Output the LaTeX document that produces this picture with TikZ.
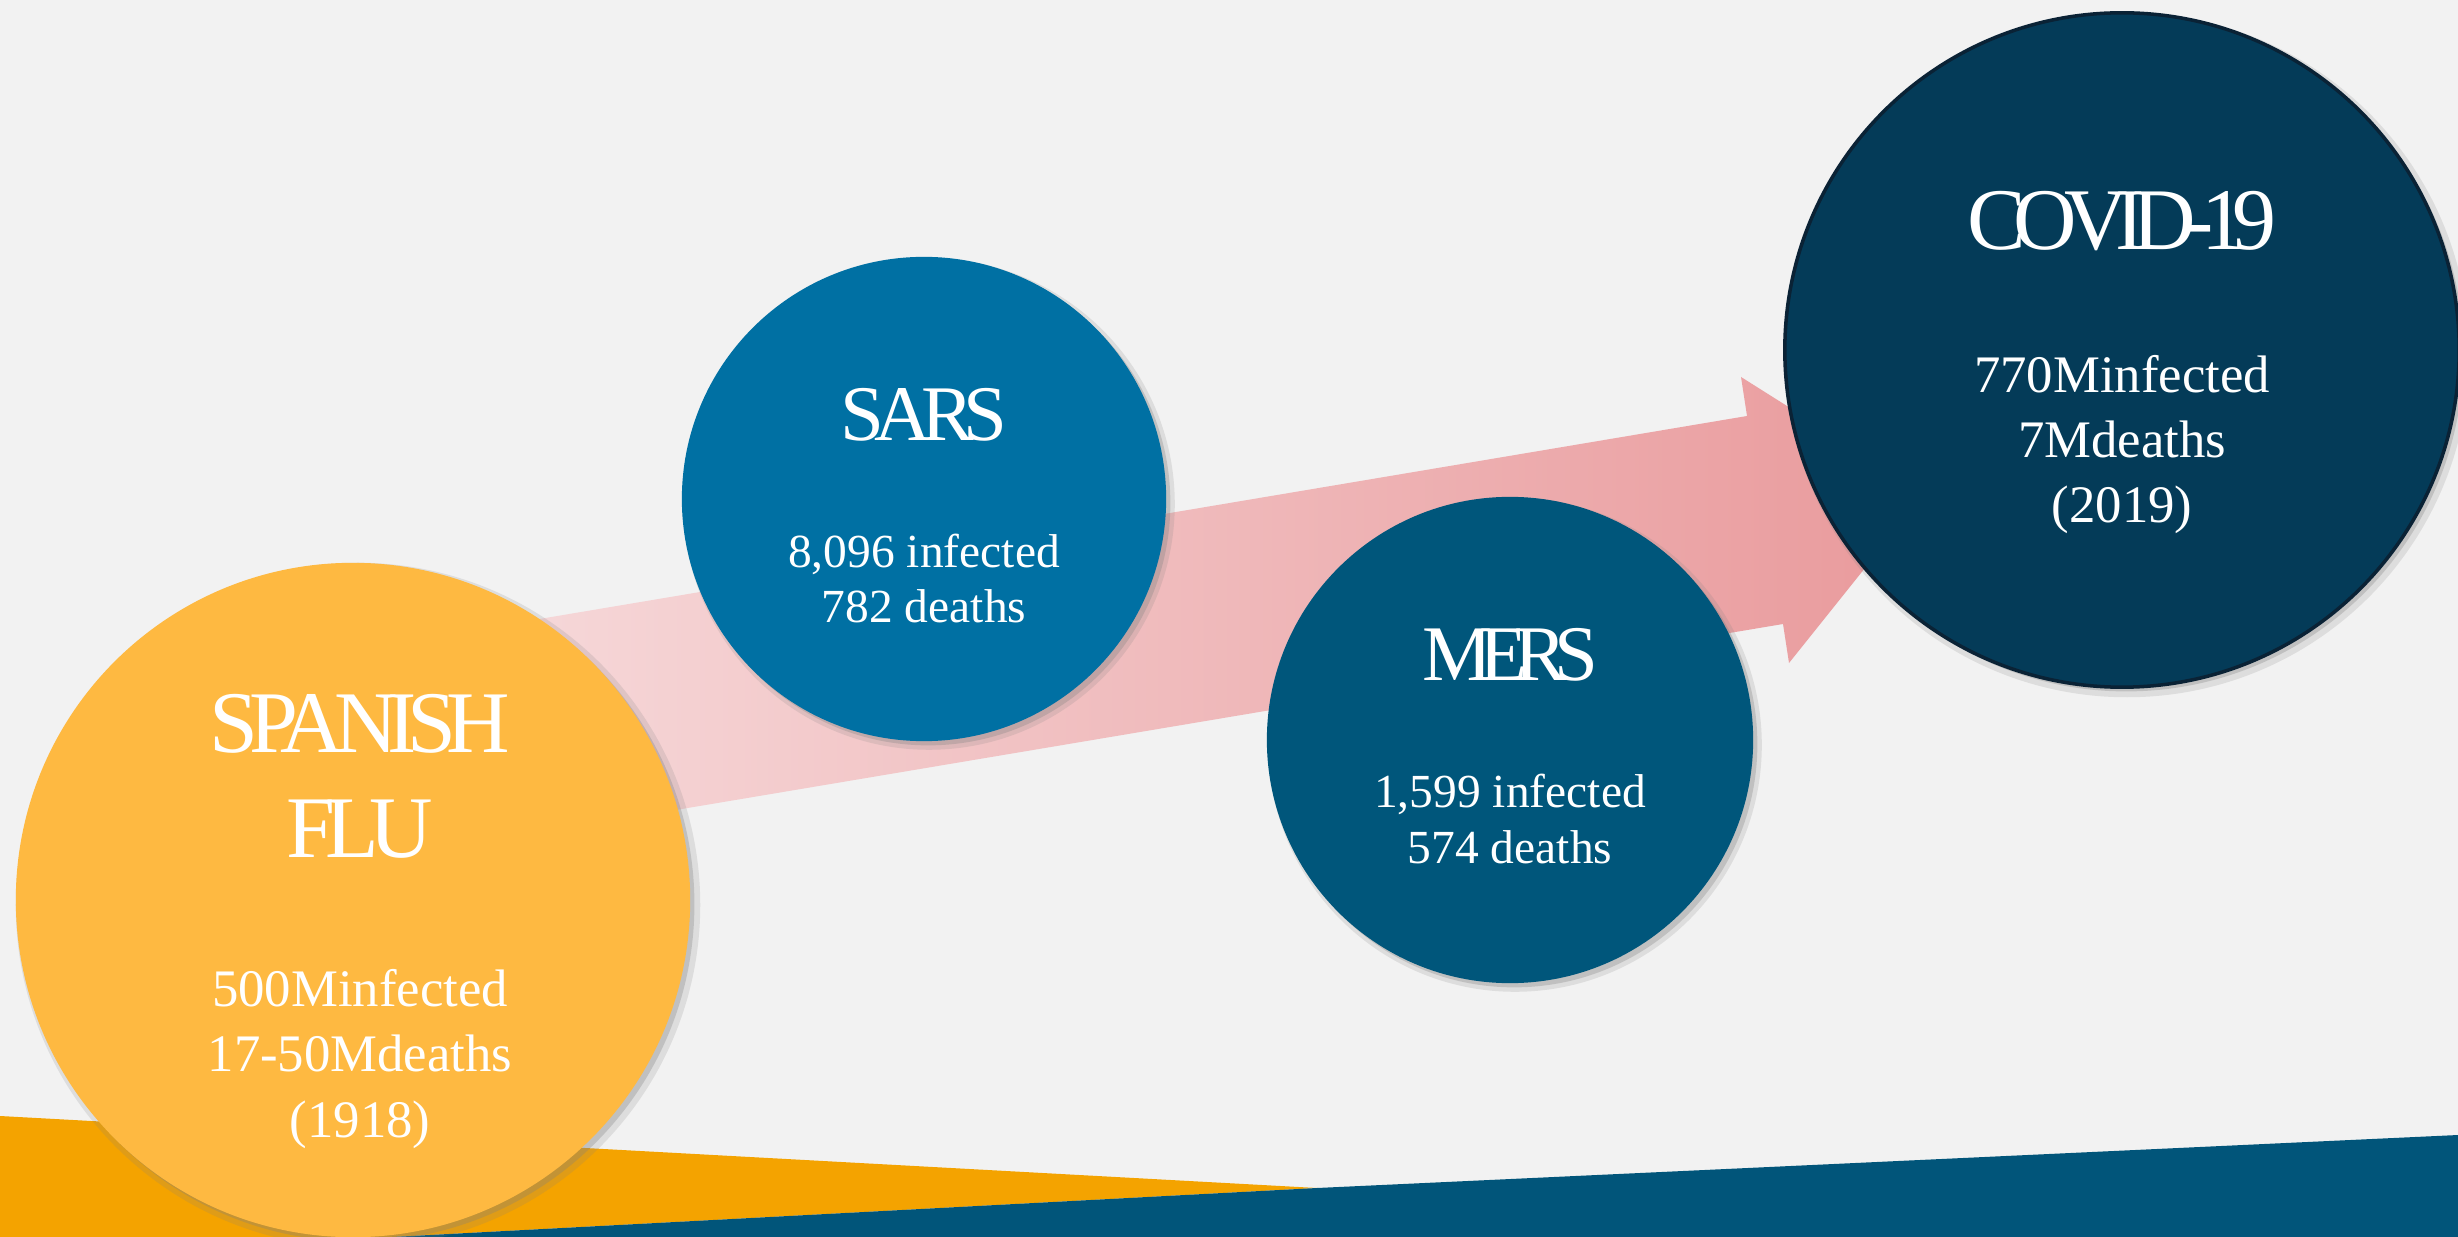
\documentclass[tikz,border=0pt]{standalone}
\usepackage{fontspec}
\setmainfont{Liberation Serif}
\newfontfamily\titlefont{Liberation Serif}
\usetikzlibrary{calc,shadows}

\definecolor{bgGray}{HTML}{F2F2F2}
\definecolor{bandOrange}{HTML}{F4A300}
\definecolor{bandBlue}{HTML}{01557A}
\definecolor{fluGold}{HTML}{FEB941}
\definecolor{sarsBlue}{HTML}{0070A3}
\definecolor{mersBlue}{HTML}{00567B}
\definecolor{covidNavy}{HTML}{043B58}
\definecolor{covidEdge}{HTML}{0A2235}
\definecolor{arrowPale}{HTML}{F7DEDF}
\definecolor{arrowRose}{HTML}{E99A9C}

\begin{document}
\begin{tikzpicture}[x=0.01cm,y=-0.01cm,
  virus/.style={circle, inner sep=0pt, minimum size=#1,
    drop shadow={shadow scale=1.015, shadow xshift=1.4pt, shadow yshift=-1.4pt, opacity=.18},
    drop shadow={shadow xshift=1.2pt, shadow yshift=-1.2pt, opacity=.3}},
  bigname/.style={text=white, anchor=base, align=center, inner sep=0pt,
    font=\titlefont\fontsize{25}{29.6}\selectfont\addfontfeature{LetterSpace=#1}},
  smallname/.style={text=white, anchor=base, align=center, inner sep=0pt,
    font=\titlefont\fontsize{22.4}{26}\selectfont\addfontfeature{LetterSpace=#1}},
  biginfo/.style={text=white, anchor=base, align=center, inner sep=0pt,
    font=\fontsize{15}{18.5}\selectfont},
  smallinfo/.style={biginfo, font=\fontsize{13.5}{15.9}\selectfont}]

% page and background
\useasboundingbox (0,0) rectangle (2458,1237);
\fill[bgGray] (0,0) rectangle (2458,1237);

% bands at the bottom
\fill[bandOrange] (0,1116) -- (1317,1188) -- (392,1237) -- (0,1237) -- cycle;
\fill[bandBlue] (392,1237) -- (1317,1188) -- (2458,1135) -- (2458,1237) -- cycle;

% the big arrow behind the circles
\shade[left color=arrowPale, right color=arrowRose]
  (367,648) -- (1747,416) -- (1741,377) -- (1925,493)
  -- (1789,663) -- (1783,624) -- (402,856) -- cycle;

% circles
\node[virus=6.74cm, fill=fluGold] (flu) at (353,900) {};
\node[virus=4.84cm, fill=sarsBlue] (sars) at (924,499) {};
\node[virus=4.86cm, fill=mersBlue] (mers) at (1510,740) {};
\node[virus=6.74cm, fill=covidNavy, draw=covidEdge, line width=1pt] (covid) at (2122,350) {};

% names (base = last line)
\node[bigname=-11] (fluname) at ($(flu)+(7,-43)$) {SPANISH\\FLU};
\node[smallname=-13] (sarsname) at ($(sars)+(0,-58)$) {SARS};
\node[smallname=-16.5] (mersname) at ($(mers)+(0,-60)$) {MERS};
\node[bigname=-14] (covidname) at ($(covid)+(0,-100)$) {COVID-19};

% figures (base = last line)
\node[biginfo] (fluinfo) at ($(flu)+(7,237)$) {500Minfected\\17-50Mdeaths\\(1918)};
\node[smallinfo] (sarsinfo) at ($(sars)+(0,124)$) {8,096 infected\\782 deaths};
\node[smallinfo] (mersinfo) at ($(mers)+(0,123)$) {1,599 infected\\574 deaths};
\node[biginfo] (covidinfo) at ($(covid)+(0,173)$) {770Minfected\\7Mdeaths\\(2019)};
\end{tikzpicture}
\end{document}
